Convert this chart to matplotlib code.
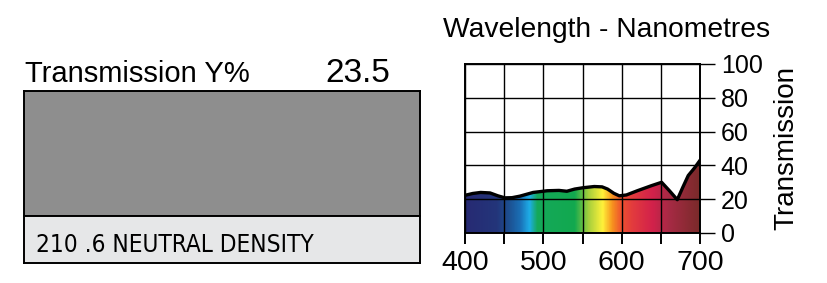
import numpy as np
import matplotlib
matplotlib.use("Agg")
import matplotlib.pyplot as plt
from matplotlib.colors import LinearSegmentedColormap
from matplotlib.patches import Polygon

# transmission curve
wavelength = [400, 410, 420, 432, 442, 451, 460, 470, 487, 505, 520, 530, 540,
              551, 565, 575, 582, 590, 597, 606, 620, 638, 651, 661, 671, 678,
              685, 693, 700]
transmission = [22.3, 23.4, 24.0, 23.7, 22.0, 20.8, 20.9, 21.8, 24.0, 25.0, 25.2,
                24.7, 26.0, 26.8, 27.5, 27.3, 26.0, 23.5, 22.0, 22.5, 25.0, 28.0,
                30.0, 25.0, 19.7, 27.0, 34.0, 38.5, 43.0]

# spectrum colours for the fill
stop_nm = [400, 440, 455, 470, 482, 492, 540, 558, 576, 588, 600, 615, 640, 660, 700]
stop_colors = ["#272a73", "#23357a", "#1d4e8f", "#1a6fb5", "#1eaee8", "#15a85a",
               "#12a94f", "#a6cf3c", "#fff23a", "#f7941e", "#ee5030", "#e23a3e",
               "#d2214b", "#a82a45", "#7a2a2a"]

x_ticks = [400, 450, 500, 550, 600, 650, 700]
x_labels = ["400", "", "500", "", "600", "", "700"]
y_ticks = [0, 20, 40, 60, 80, 100]

filter_name = "210 .6 NEUTRAL DENSITY"
y_value = "23.5"
filter_grey = "#8e8e8e"

plt.rcParams["font.family"] = ["Liberation Sans", "DejaVu Sans"]
W, H = 827, 283
fig = plt.figure(figsize=(W / 100, H / 100), dpi=100)


def box(x0, y0, x1, y1):
    return [x0 / W, 1 - y1 / H, (x1 - x0) / W, (y1 - y0) / H]


# left swatch
sw = fig.add_axes(box(24, 91, 420, 216))
sw.set_facecolor(filter_grey)
lab = fig.add_axes(box(24, 216, 420, 263))
lab.set_facecolor("#e6e7e8")
for a in (sw, lab):
    a.set_xticks([])
    a.set_yticks([])
    for s in a.spines.values():
        s.set_linewidth(1.4)

fig.text(25 / W, 1 - 82 / H, "Transmission Y%", fontsize=21, va="baseline")
fig.text(390 / W, 1 - 82 / H, y_value, fontsize=24, va="baseline", ha="right")
fig.text(36 / W, 1 - 252 / H, filter_name, fontsize=17.5, va="baseline",
         family=["DejaVu Sans"], fontstretch="condensed")

# spectrum chart
ax = fig.add_axes(box(465, 64, 700, 233))
ax.set_xlim(400, 700)
ax.set_ylim(0, 100)

cmap = LinearSegmentedColormap.from_list(
    "spec", [((n - 400) / 300, c) for n, c in zip(stop_nm, stop_colors)])
grad = np.linspace(0, 1, 600).reshape(1, -1)
img = ax.imshow(grad, cmap=cmap, extent=[400, 700, 0, 100], aspect="auto",
                origin="lower", zorder=1)
poly = Polygon(list(zip(wavelength, transmission)) + [(700, 0), (400, 0)],
               closed=True, facecolor="none", edgecolor="none")
ax.add_patch(poly)
img.set_clip_path(poly)

ax.plot(wavelength, transmission, color="black", lw=2.4, zorder=4,
        solid_joinstyle="round")

ax.set_xticks(x_ticks)
ax.set_xticklabels(x_labels)
ax.set_yticks(y_ticks)
ax.grid(True, color="black", lw=1.0, zorder=2)
ax.set_axisbelow(False)
ax.yaxis.tick_right()
ax.yaxis.set_label_position("right")
ax.tick_params(axis="y", length=11, width=1.0, pad=4, labelsize=18)
ax.tick_params(axis="x", length=8, width=1.4, pad=4, labelsize=20.5)
for s in ax.spines.values():
    s.set_linewidth(1.4)
ax.set_ylabel("Transmission", fontsize=20, labelpad=8)

fig.text(443 / W, 1 - 37 / H, "Wavelength - Nanometres", fontsize=20.3, va="baseline")

fig.savefig("out.png", dpi=100)
